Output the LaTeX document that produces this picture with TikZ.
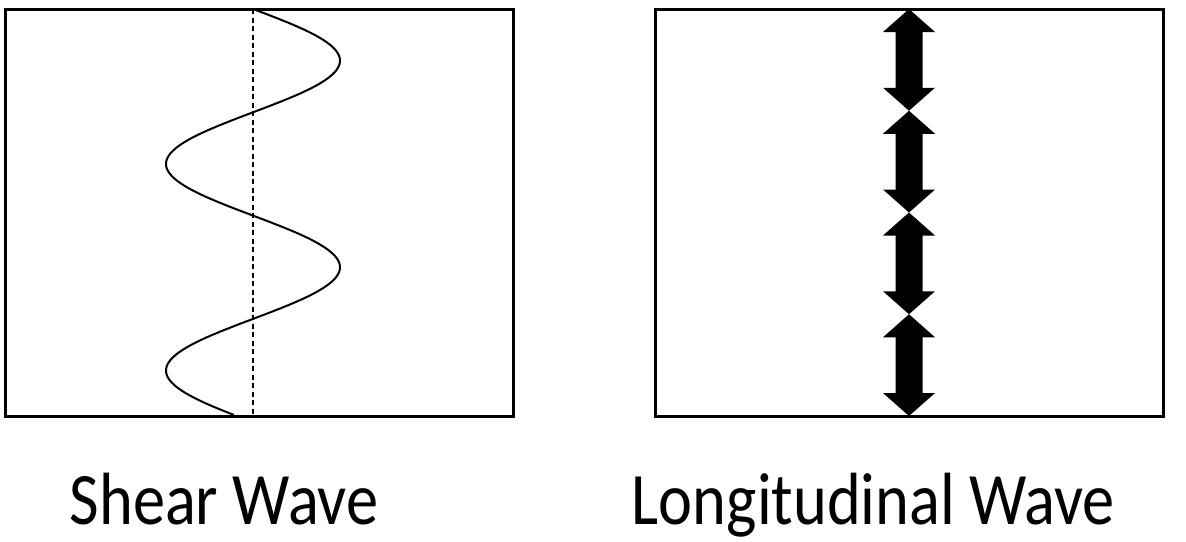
\documentclass[tikz,border=0pt]{standalone}
\usepackage{fontspec}
\setmainfont{Carlito}
\begin{document}
\begin{tikzpicture}[x=1pt,y=-1pt,
  frame/.style={draw=black,line width=3pt},
  wave/.style={draw=black,line width=2pt},
  axisline/.style={draw=black,line width=2.5pt,dash pattern=on 5pt off 3.5pt},
  dblarrow/.style={fill=black},
  caption/.style={anchor=base,inner sep=0pt,font=\fontsize{74}{80}\selectfont}]
\useasboundingbox (0,0) rectangle (1186,541);
% left box
\draw[frame] (5.5,9.5) rectangle (513,416.5);
\draw[axisline] (253,9) -- (253,416);
\draw[wave] plot[domain=0:3.93,samples=200,smooth,variable=\t] ({253+87*sin(180*\t)},{9+103.3*\t});
% right box
\draw[frame] (655.5,9.5) rectangle (1163,416.5);
\foreach \a/\b in {9/110.75,110.75/212.5,212.5/314.25,314.25/416}{
  \fill[dblarrow] (909,\a) -- (935,\a+23) -- (922.5,\a+23) -- (922.5,\b-23) -- (935,\b-23)
    -- (909,\b) -- (883,\b-23) -- (895.5,\b-23) -- (895.5,\a+23) -- (883,\a+23) -- cycle;
}
% captions
\node[caption] (shear) at (224,524) {\scalebox{0.87}[1]{Shear Wave}};
\node[caption] (long) at (873.5,524) {\scalebox{0.87}[1]{Longitudinal Wave}};
\end{tikzpicture}
\end{document}
